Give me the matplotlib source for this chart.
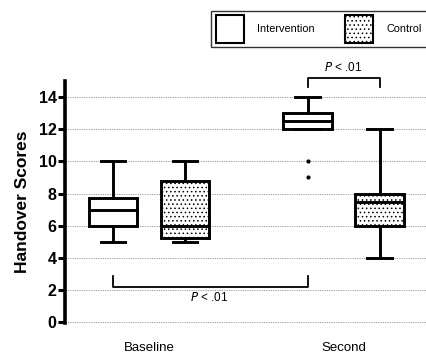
import matplotlib
matplotlib.use("Agg")
import matplotlib.pyplot as plt
from matplotlib.patches import Patch

plt.rcParams['font.family'] = ['Liberation Sans', 'DejaVu Sans']
plt.rcParams['hatch.linewidth'] = 0.6

categories = ['Baseline', 'Second']
series = ['Intervention', 'Control']

int_q1 = [6, 12]
int_med = [7, 12.5]
int_q3 = [7.75, 13]
int_lo = [5, 12]
int_hi = [10, 14]
int_fliers = [[], [10, 9]]

ctl_q1 = [5.25, 6]
ctl_med = [6, 7.5]
ctl_q3 = [8.75, 8]
ctl_lo = [5, 4]
ctl_hi = [10, 12]
ctl_fliers = [[], []]

yticks = [0, 2, 4, 6, 8, 10, 12, 14]

fig = plt.figure(figsize=(4.27, 3.55), dpi=100)
ax = fig.add_axes([0.152, 0.090, 0.848, 0.682])

def stats(q1, med, q3, lo, hi, fl):
    return [dict(q1=a, med=b, q3=c, whislo=d, whishi=e, fliers=f)
            for a, b, c, d, e, f in zip(q1, med, q3, lo, hi, fl)]

centers = [1, 2]
off = 0.185
w = 0.25
pos_int = [c - off for c in centers]
pos_ctl = [c + off for c in centers]

lw = 2.1
common = dict(widths=w, patch_artist=True,
              whiskerprops=dict(color='black', lw=lw),
              capprops=dict(color='black', lw=lw),
              medianprops=dict(color='black', lw=lw),
              flierprops=dict(marker='o', markerfacecolor='black', markeredgecolor='black', markersize=2.0),
              zorder=3)
ax.bxp(stats(int_q1, int_med, int_q3, int_lo, int_hi, int_fliers), positions=pos_int,
       boxprops=dict(facecolor='white', edgecolor='black', lw=lw), **common)
ax.bxp(stats(ctl_q1, ctl_med, ctl_q3, ctl_lo, ctl_hi, ctl_fliers), positions=pos_ctl,
       boxprops=dict(facecolor='white', edgecolor='black', lw=lw, hatch='....'), **common)

ax.set_xlim(0.568, 2.429)
ax.set_ylim(-0.05, 15)
ax.set_yticks(yticks)
ax.set_yticklabels([str(t) for t in yticks], fontsize=11.5, fontweight='bold')
ax.set_xticks(centers)
ax.set_xticklabels(categories, fontsize=9.5)
ax.tick_params(axis='x', length=0, pad=14)
ax.tick_params(axis='y', length=5, width=2.2, pad=1)
for s in ['top', 'right', 'bottom']:
    ax.spines[s].set_visible(False)
ax.spines['left'].set_linewidth(2.6)
ax.set_ylabel('Handover Scores', fontsize=12.5, fontweight='bold', labelpad=6)
ax.yaxis.grid(True, linestyle=(0, (1.2, 1.2)), color='#999999', lw=0.7)
ax.set_axisbelow(True)

# significance brackets
blw = 1.3
ax.plot([pos_int[1], pos_int[1], pos_ctl[1], pos_ctl[1]], [14.6, 15.2, 15.2, 14.6],
        color='black', lw=blw, clip_on=False)
ax.text((pos_int[1] + pos_ctl[1]) / 2, 15.45, r'$\it{P}$ < .01', ha='center', va='bottom', fontsize=8.5)
ax.plot([pos_int[0], pos_int[0], pos_int[1], pos_int[1]], [2.85, 2.2, 2.2, 2.85],
        color='black', lw=blw)
ax.text(1.31, 1.95, r'$\it{P}$ < .01', ha='center', va='top', fontsize=8.5)

handles = [Patch(facecolor='white', edgecolor='black', lw=1.5, label=series[0]),
           Patch(facecolor='white', edgecolor='black', lw=1.5, hatch='....', label=series[1])]
leg = fig.legend(handles=handles, ncol=2, loc='upper right', bbox_to_anchor=(1.012, 0.985),
                 fontsize=7.8, handlelength=2.6, handleheight=3.6, frameon=True, fancybox=False,
                 edgecolor='black', borderpad=0.4, columnspacing=2.8, handletextpad=1.25)
leg.get_frame().set_linewidth(1.0)

fig.savefig('out.png', dpi=100)
